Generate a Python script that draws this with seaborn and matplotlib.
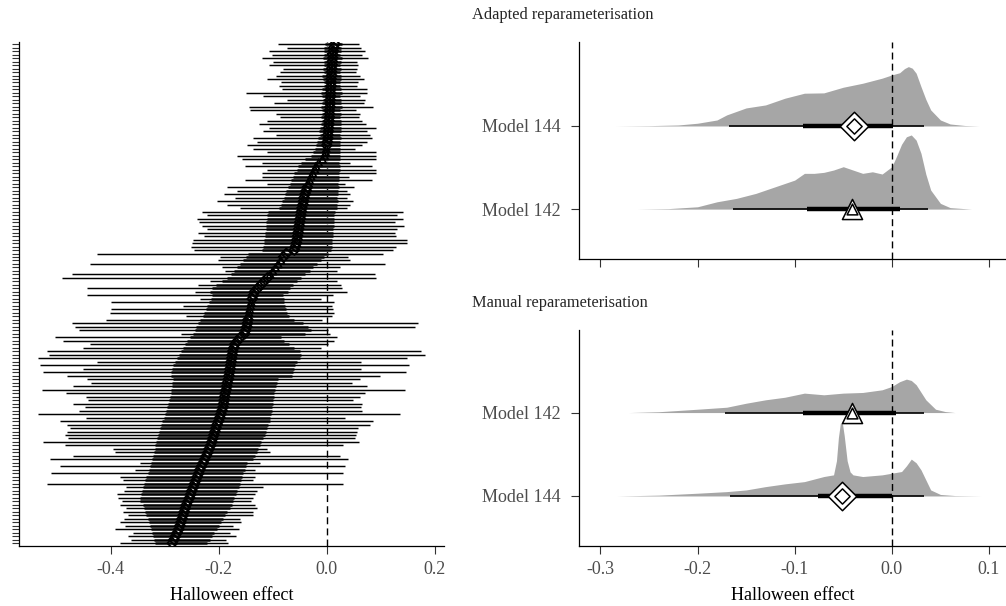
import numpy as np
import pandas as pd
import matplotlib
matplotlib.use("Agg")
import matplotlib.pyplot as plt
import seaborn as sns

# ---- left panel: every model, sorted from the top row down ----
est = [0.015, 0.013, 0.012, 0.011, 0.011, 0.010, 0.010, 0.009, 0.009, 0.009, 0.008, 0.008,
       0.008, 0.007, 0.007, 0.007, 0.006, 0.006, 0.006, 0.005, 0.005, 0.005, 0.004, 0.004,
       0.003, 0.003, 0.002, 0.002, 0.001, 0.000, -0.001, -0.002, -0.004, -0.008, -0.015, -0.020,
       -0.022, -0.026, -0.029, -0.032, -0.034, -0.036, -0.038, -0.040, -0.042, -0.043, -0.044, -0.046,
       -0.047, -0.048, -0.049, -0.050, -0.051, -0.052, -0.053, -0.054, -0.055, -0.056, -0.058, -0.060,
       -0.075, -0.080, -0.085, -0.090, -0.095, -0.100, -0.105, -0.110, -0.116, -0.122, -0.128, -0.134,
       -0.136, -0.138, -0.140, -0.141, -0.143, -0.144, -0.145, -0.146, -0.147, -0.148, -0.150, -0.152,
       -0.160, -0.165, -0.170, -0.172, -0.174, -0.175, -0.176, -0.177, -0.178, -0.179, -0.180, -0.181,
       -0.182, -0.184, -0.185, -0.186, -0.188, -0.189, -0.190, -0.191, -0.192, -0.194, -0.196, -0.198,
       -0.200, -0.203, -0.205, -0.207, -0.209, -0.211, -0.213, -0.215, -0.218, -0.220, -0.223, -0.226,
       -0.229, -0.232, -0.235, -0.237, -0.240, -0.242, -0.245, -0.247, -0.250, -0.252, -0.254, -0.257,
       -0.260, -0.262, -0.264, -0.266, -0.268, -0.270, -0.272, -0.274, -0.277, -0.280, -0.283, -0.286]
lo95 = [-0.091, -0.074, -0.107, -0.102, -0.120, -0.100, -0.107, -0.081, -0.087, -0.095, -0.110, -0.085,
        -0.089, -0.083, -0.150, -0.119, -0.074, -0.098, -0.144, -0.143, -0.094, -0.087, -0.110, -0.125,
        -0.107, -0.119, -0.094, -0.137, -0.130, -0.148, -0.137, -0.111, -0.167, -0.157, -0.120, -0.152,
        -0.111, -0.120, -0.120, -0.152, -0.111, -0.185, -0.167, -0.191, -0.170, -0.204, -0.185, -0.161,
        -0.232, -0.222, -0.241, -0.237, -0.231, -0.222, -0.239, -0.228, -0.248, -0.250, -0.252, -0.246,
        -0.426, -0.198, -0.201, -0.439, -0.195, -0.189, -0.472, -0.491, -0.217, -0.238, -0.444, -0.244,
        -0.444, -0.235, -0.399, -0.266, -0.399, -0.402, -0.260, -0.408, -0.472, -0.467, -0.459, -0.270,
        -0.504, -0.488, -0.439, -0.452, -0.519, -0.514, -0.535, -0.426, -0.532, -0.451, -0.525, -0.482,
        -0.445, -0.436, -0.470, -0.528, -0.483, -0.446, -0.442, -0.470, -0.448, -0.459, -0.535, -0.446,
        -0.494, -0.482, -0.476, -0.482, -0.485, -0.480, -0.525, -0.485, -0.396, -0.392, -0.470, -0.513,
        -0.346, -0.495, -0.356, -0.510, -0.383, -0.378, -0.519, -0.371, -0.375, -0.389, -0.386, -0.380,
        -0.383, -0.371, -0.378, -0.369, -0.376, -0.383, -0.374, -0.393, -0.359, -0.369, -0.362, -0.383]
hi95 = [0.060, 0.063, 0.071, 0.065, 0.076, 0.056, 0.058, 0.055, 0.054, 0.062, 0.068, 0.057,
        0.055, 0.074, 0.074, 0.061, 0.070, 0.068, 0.085, 0.054, 0.061, 0.060, 0.066, 0.072,
        0.091, 0.074, 0.080, 0.083, 0.074, 0.065, 0.052, 0.092, 0.092, 0.092, 0.043, 0.083,
        0.092, 0.092, 0.041, 0.083, 0.033, 0.050, 0.037, 0.043, 0.037, 0.048, 0.043, 0.037,
        0.141, 0.130, 0.141, 0.126, 0.143, 0.130, 0.126, 0.128, 0.148, 0.148, 0.128, 0.122,
        0.104, 0.039, 0.043, 0.107, 0.024, 0.018, 0.089, 0.092, 0.018, 0.027, 0.029, 0.037,
        0.011, -0.010, 0.013, 0.009, 0.011, 0.013, 0.009, -0.008, 0.169, 0.163, 0.002, 0.005,
        0.018, 0.013, 0.002, -0.010, 0.175, 0.181, 0.149, 0.064, 0.152, 0.064, 0.146, 0.098,
        0.061, 0.046, 0.074, 0.144, 0.070, 0.061, 0.049, 0.066, 0.064, 0.065, 0.135, 0.033,
        0.086, 0.080, 0.058, 0.056, 0.054, 0.052, 0.060, 0.030, -0.110, -0.106, 0.024, 0.040,
        -0.124, 0.033, -0.133, 0.030, -0.133, -0.136, 0.030, -0.118, -0.130, -0.133, -0.136, -0.140,
        -0.133, -0.130, -0.136, -0.136, -0.160, -0.158, -0.173, -0.162, -0.180, -0.168, -0.186, -0.183]
lo50 = [-0.004, -0.005, -0.006, -0.005, -0.007, -0.006, -0.005, -0.007, -0.006, -0.008, -0.007, -0.006,
        -0.006, -0.008, -0.010, -0.008, -0.007, -0.009, -0.010, -0.009, -0.008, -0.010, -0.009, -0.011,
        -0.012, -0.014, -0.013, -0.016, -0.018, -0.020, -0.022, -0.025, -0.030, -0.040, -0.048, -0.054,
        -0.056, -0.060, -0.062, -0.066, -0.068, -0.072, -0.075, -0.078, -0.080, -0.083, -0.085, -0.088,
        -0.109, -0.110, -0.111, -0.112, -0.112, -0.113, -0.114, -0.115, -0.116, -0.117, -0.118, -0.120,
        -0.146, -0.150, -0.155, -0.160, -0.166, -0.172, -0.178, -0.185, -0.195, -0.205, -0.212, -0.217,
        -0.213, -0.215, -0.218, -0.221, -0.224, -0.227, -0.230, -0.234, -0.238, -0.242, -0.245, -0.248,
        -0.254, -0.258, -0.262, -0.266, -0.270, -0.274, -0.278, -0.282, -0.285, -0.287, -0.288, -0.288,
        -0.285, -0.286, -0.287, -0.288, -0.289, -0.290, -0.292, -0.294, -0.296, -0.298, -0.300, -0.302,
        -0.305, -0.307, -0.309, -0.311, -0.313, -0.315, -0.317, -0.318, -0.319, -0.320, -0.321, -0.323,
        -0.326, -0.328, -0.330, -0.332, -0.334, -0.336, -0.338, -0.340, -0.342, -0.344, -0.346, -0.346,
        -0.340, -0.338, -0.336, -0.334, -0.332, -0.330, -0.328, -0.326, -0.324, -0.322, -0.320, -0.319]
hi50 = [0.028, 0.026, 0.027, 0.025, 0.028, 0.026, 0.025, 0.027, 0.025, 0.026, 0.027, 0.025,
        0.025, 0.026, 0.028, 0.025, 0.026, 0.027, 0.028, 0.025, 0.026, 0.025, 0.026, 0.027,
        0.027, 0.026, 0.025, 0.026, 0.025, 0.024, 0.024, 0.025, 0.024, 0.025, 0.023, 0.024,
        0.024, 0.023, 0.022, 0.023, 0.021, 0.022, 0.020, 0.021, 0.019, 0.020, 0.019, 0.018,
        0.015, 0.014, 0.014, 0.013, 0.013, 0.012, 0.012, 0.011, 0.010, 0.010, 0.009, 0.008,
        0.002, -0.005, -0.010, -0.019, -0.025, -0.032, -0.040, -0.048, -0.055, -0.062, -0.068, -0.072,
        -0.081, -0.080, -0.079, -0.078, -0.076, -0.074, -0.070, -0.060, -0.045, -0.035, -0.030, -0.040,
        -0.084, -0.080, -0.070, -0.060, -0.050, -0.047, -0.050, -0.055, -0.058, -0.060, -0.062, -0.064,
        -0.090, -0.093, -0.095, -0.096, -0.097, -0.098, -0.099, -0.100, -0.101, -0.102, -0.103, -0.105,
        -0.106, -0.108, -0.110, -0.112, -0.115, -0.118, -0.121, -0.124, -0.127, -0.130, -0.133, -0.136,
        -0.148, -0.150, -0.152, -0.155, -0.157, -0.159, -0.161, -0.163, -0.166, -0.168, -0.171, -0.173,
        -0.175, -0.180, -0.184, -0.188, -0.192, -0.196, -0.200, -0.204, -0.208, -0.212, -0.216, -0.222]
shape = list("D" * 30 + "^" * 11 + "D" * 21 + "^" * 5 + "D" * 7 + "^" * 5 + "D" * 65)

# ---- right panels: two models, two parameterisations ----
models = ["Model 142", "Model 144"]
model_shape = ["^", "D"]
x_a142 = [-0.262, -0.23, -0.2, -0.18, -0.16, -0.14, -0.12, -0.10, -0.09, -0.08, -0.07, -0.06, -0.05,
          -0.04, -0.03, -0.02, -0.01, 0.0, 0.005, 0.01, 0.015, 0.02, 0.025, 0.03, 0.035, 0.04,
          0.05, 0.06, 0.082]
d_a142 = [0, 0.006, 0.028, 0.088, 0.129, 0.189, 0.269, 0.349, 0.430, 0.430, 0.442, 0.470, 0.510,
          0.470, 0.430, 0.449, 0.422, 0.510, 0.640, 0.780, 0.870, 0.892, 0.830, 0.671, 0.420, 0.229,
          0.069, 0.018, 0]
x_a144 = [-0.285, -0.25, -0.22, -0.2, -0.18, -0.17, -0.15, -0.13, -0.11, -0.09, -0.07, -0.05, -0.03,
          -0.01, 0.0, 0.008, 0.013, 0.017, 0.021, 0.025, 0.03, 0.035, 0.04, 0.05, 0.06, 0.075, 0.09]
d_a144 = [0, 0.004, 0.012, 0.033, 0.072, 0.133, 0.217, 0.253, 0.334, 0.394, 0.398, 0.466, 0.514,
          0.575, 0.614, 0.640, 0.690, 0.714, 0.695, 0.635, 0.473, 0.320, 0.193, 0.072, 0.024, 0.006, 0]
x_m142 = [-0.271, -0.24, -0.2, -0.17, -0.15, -0.13, -0.11, -0.09, -0.07, -0.05, -0.03, -0.01, 0.0,
          0.008, 0.015, 0.02, 0.025, 0.035, 0.045, 0.055, 0.065]
d_m142 = [0, 0.010, 0.040, 0.064, 0.112, 0.153, 0.184, 0.233, 0.213, 0.233, 0.241, 0.273, 0.313,
          0.370, 0.401, 0.385, 0.334, 0.153, 0.040, 0.012, 0]
x_m144 = [-0.283, -0.24, -0.2, -0.17, -0.15, -0.13, -0.11, -0.09, -0.07, -0.06, -0.057, -0.055, -0.053,
          -0.051, -0.049, -0.046, -0.043, -0.04, -0.03, -0.01, 0.0, 0.01, 0.015, 0.02, 0.025, 0.03,
          0.04, 0.05, 0.065, 0.092]
d_m144 = [0, 0.010, 0.033, 0.052, 0.072, 0.112, 0.145, 0.172, 0.233, 0.253, 0.422, 0.700, 0.870,
          0.880, 0.723, 0.422, 0.289, 0.253, 0.233, 0.253, 0.273, 0.293, 0.361, 0.442, 0.398, 0.313,
          0.072, 0.018, 0.005, 0]

# point + 50% + 95% intervals, order as in `models`
adapted_est = [-0.041, -0.039]
adapted_lo95 = [-0.163, -0.168]
adapted_hi95 = [0.037, 0.033]
adapted_lo50 = [-0.087, -0.091]
adapted_hi50 = [0.008, 0.001]
manual_est = [-0.041, -0.051]
manual_lo95 = [-0.172, -0.167]
manual_hi95 = [0.033, 0.033]
manual_lo50 = [-0.091, -0.076]
manual_hi50 = [0.004, 0.0]

sns.set_theme(style="ticks")
plt.rcParams["font.family"] = ["Liberation Serif", "DejaVu Serif"]
plt.rcParams["axes.linewidth"] = 0.9
plt.rcParams["axes.edgecolor"] = "black"

TXT = "#4d4d4d"
FS = 13
fig = plt.figure(figsize=(10.06, 6.06), dpi=100)
W, H = 1006, 606
ax_l = fig.add_axes([19 / W, (H - 546) / H, (444 - 19) / W, (546 - 42) / H])
ax_a = fig.add_axes([579 / W, (H - 259) / H, (W - 579) / W, (259 - 42) / H])
ax_m = fig.add_axes([579 / W, (H - 546) / H, (W - 579) / W, (546 - 330) / H])

# left forest plot
n = len(est)
left = pd.DataFrame({"est": est, "lo95": lo95, "hi95": hi95, "lo50": lo50, "hi50": hi50,
                     "shape": shape, "row": np.arange(n)[::-1]})
ax_l.axvline(0, color="black", lw=1.0, ls=(0, (5, 3)), zorder=0)
ax_l.hlines(left["row"], left["lo50"], left["hi50"], color="#4a4a4a", lw=2.2, zorder=1)
ax_l.hlines(left["row"], left["lo95"], left["hi95"], color="black", lw=1.05, zorder=2)
for m, sub in left.groupby("shape"):
    sns.scatterplot(data=sub, x="est", y="row", marker=m, s=26, edgecolor="black",
                    linewidth=1.3, ax=ax_l, zorder=3, legend=False)
    ax_l.collections[-1].set_facecolor("none")
ax_l.set_xlim(-0.570, 0.217)
ax_l.set_ylim(-0.8, n - 0.4)
ax_l.set_xticks([-0.4, -0.2, 0.0, 0.2])
ax_l.set_xticklabels(["-0.4", "-0.2", "0.0", "0.2"])
ax_l.set_yticks(left["row"])
ax_l.set_yticklabels([])
ax_l.set_ylabel("")
ax_l.set_xlabel("Halloween effect", fontsize=FS, color="black", labelpad=7)
ax_l.tick_params(axis="y", length=5, width=0.8, color="#333333")


def ridge_panel(ax, grids, dens, shapes, e, l95, h95, l50, h50):
    for j in [1, 0]:
        ax.fill_between(grids[j], j, j + np.array(dens[j]), color="#a6a6a6", lw=0, zorder=1)
    ax.axvline(0, color="black", lw=1.0, ls=(0, (5, 3)), zorder=2)
    rows = [0, 1]
    ax.hlines(rows, l95, h95, color="black", lw=1.2, zorder=3)
    ax.hlines(rows, l50, h50, color="black", lw=3.2, zorder=3)
    for j in rows:
        sns.scatterplot(x=[e[j]], y=[j], marker=shapes[j], s=210, color="white",
                        edgecolor="black", linewidth=1.1, ax=ax, zorder=4, legend=False)
        sns.scatterplot(x=[e[j]], y=[j], marker=shapes[j], s=60, color="white",
                        edgecolor="black", linewidth=1.1, ax=ax, zorder=5, legend=False)
    ax.set_xlim(-0.322, 0.1175)
    ax.set_xticks([-0.3, -0.2, -0.1, 0.0, 0.1])
    ax.set_yticks(rows)
    ax.set_ylabel("")


ridge_panel(ax_a, [x_a142, x_a144], [d_a142, d_a144], model_shape, adapted_est, adapted_lo95,
            adapted_hi95, adapted_lo50, adapted_hi50)
ax_a.set_yticklabels(models)
ax_a.set_ylim(-0.6, 2.01)
ax_a.set_xticklabels([])
ax_a.set_xlabel("")

ridge_panel(ax_m, [x_m144, x_m142], [d_m144, d_m142], model_shape[::-1], manual_est[::-1],
            manual_lo95[::-1], manual_hi95[::-1], manual_lo50[::-1], manual_hi50[::-1])
ax_m.set_yticks([0, 1])
ax_m.set_yticklabels(models[::-1])
ax_m.set_ylim(-0.6, 1.99)
ax_m.set_xticklabels(["-0.3", "-0.2", "-0.1", "0.0", "0.1"])
ax_m.set_xlabel("Halloween effect", fontsize=FS, color="black", labelpad=7)

for ax in [ax_l, ax_a, ax_m]:
    sns.despine(ax=ax)
    ax.tick_params(axis="x", length=5.5, width=0.8, color="#333333", labelsize=FS,
                   labelcolor=TXT, pad=5)
    ax.tick_params(axis="y", labelsize=FS, labelcolor=TXT)
for ax in [ax_a, ax_m]:
    ax.tick_params(axis="y", length=5.5, width=0.8, color="#333333", pad=8)

fig.text(472 / W, 1 - 15 / H, "Adapted reparameterisation", fontsize=11.8, ha="left", va="center")
fig.text(472 / W, 1 - 303 / H, "Manual reparameterisation", fontsize=11.8, ha="left", va="center")

fig.savefig("out.png", dpi=100)
